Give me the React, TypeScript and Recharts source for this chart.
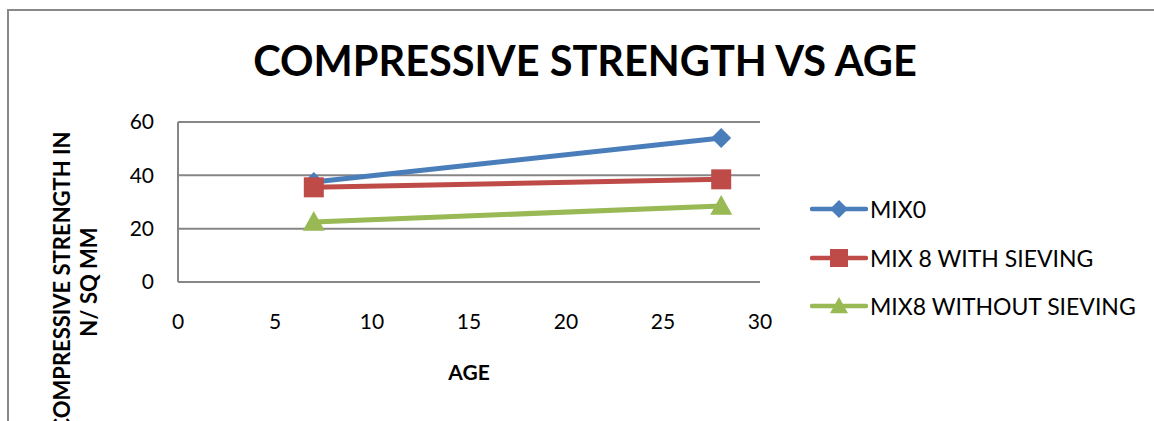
import { LineChart, Line, XAxis, YAxis, CartesianGrid, Label } from 'recharts'

const ages = [7, 28]
const mix0 = [37.5, 54]
const mix8With = [35.5, 38.5]
const mix8Without = [22.5, 28.5]
const xTicks = [0, 5, 10, 15, 20, 25, 30]
const yTicks = [0, 20, 40, 60]

const seriesNames = ['MIX0', 'MIX 8 WITH SIEVING', 'MIX8 WITHOUT SIEVING']
const colors = ['#4A7EBB', '#BE4B48', '#98B954']

const data = ages.map((age, i) => ({
  age,
  mix0: mix0[i],
  mix8With: mix8With[i],
  mix8Without: mix8Without[i],
}))

const FONT = 'Lato, "Open Sans", sans-serif'

function Diamond({ cx, cy, fill, size = 10 }: any) {
  if (cx == null || cy == null) return null
  return <path d={`M${cx},${cy - size}L${cx + size},${cy}L${cx},${cy + size}L${cx - size},${cy}Z`} fill={fill} />
}

function Square({ cx, cy, fill, size = 10 }: any) {
  if (cx == null || cy == null) return null
  return <rect x={cx - size} y={cy - size} width={size * 2} height={size * 2} fill={fill} />
}

function Triangle({ cx, cy, fill, size = 11 }: any) {
  if (cx == null || cy == null) return null
  return <path d={`M${cx},${cy - size}L${cx + size},${cy + size * 0.8}L${cx - size},${cy + size * 0.8}Z`} fill={fill} />
}

const markers = [Diamond, Square, Triangle]

// legend drawn beside the chart so it doesn't eat into the plot offsets
function ChartLegend() {
  return (
    <div style={{ position: 'absolute', left: 810, top: 185, fontFamily: FONT, fontSize: 23, color: '#000' }}>
      {seriesNames.map((name, i) => {
        const M = markers[i]
        return (
          <div key={name} style={{ display: 'flex', alignItems: 'center', height: 48.5 }}>
            <svg width={58} height={24}>
              <line x1={2} y1={12} x2={56} y2={12} stroke={colors[i]} strokeWidth={4.5} strokeLinecap="round" />
              <M cx={29} cy={12} fill={colors[i]} size={9} />
            </svg>
            <span style={{ marginLeft: 2 }}>{name}</span>
          </div>
        )
      })}
    </div>
  )
}

function YTitle({ viewBox }: any) {
  const { y, height } = viewBox
  const cy = y + height / 2 + 80
  return (
    <g fontFamily={FONT} fontWeight="bold" fontSize={22} fill="#000">
      <text x={61} y={cy} transform={`rotate(-90 61 ${cy})`} textAnchor="middle" dominantBaseline="central">
        COMPRESSIVE STRENGTH IN
      </text>
      <text x={88} y={cy} transform={`rotate(-90 88 ${cy})`} textAnchor="middle" dominantBaseline="central">
        N/ SQ MM
      </text>
    </g>
  )
}

export default function App() {
  return (
    <div style={{ position: 'absolute', left: 0, top: 0, width: 1154, height: 421, overflow: 'hidden', background: '#fff' }}>
      <div
        style={{
          position: 'absolute',
          left: 7,
          top: 9,
          width: 1300,
          height: 600,
          border: '2px solid #898989',
          boxSizing: 'border-box',
        }}
      />
      <div
        style={{
          position: 'absolute',
          left: 0,
          width: 1170,
          top: 36,
          textAlign: 'center',
          fontFamily: FONT,
          fontWeight: 'bold',
          fontSize: 41.5,
          color: '#000',
          lineHeight: '48px',
        }}
      >
        COMPRESSIVE STRENGTH VS AGE
      </div>
      <div style={{ position: 'absolute', left: 0, top: 0 }}>
        <LineChart width={1154} height={421} data={data} margin={{ top: 122, right: 394, bottom: 0, left: 118 }}>
          <CartesianGrid horizontal vertical={false} stroke="#868686" strokeWidth={2} />
          <XAxis
            dataKey="age"
            type="number"
            domain={[0, 30]}
            ticks={xTicks}
            height={139}
            axisLine={{ stroke: '#868686', strokeWidth: 2 }}
            tickLine={false}
            tickSize={0}
            tickMargin={32}
            tick={{ fill: '#000', fontSize: 21, fontFamily: FONT }}
            interval={0}
          >
            <Label
              value="AGE"
              position="insideTop"
              offset={83}
              style={{ fill: '#000', fontSize: 21, fontWeight: 'bold', fontFamily: FONT }}
            />
          </XAxis>
          <YAxis
            type="number"
            domain={[0, 60]}
            ticks={yTicks}
            width={60}
            axisLine={{ stroke: '#868686', strokeWidth: 2 }}
            tickLine={false}
            tickSize={0}
            tickMargin={24}
            tick={{ fill: '#000', fontSize: 21, fontFamily: FONT }}
            interval={0}
          >
            <Label content={<YTitle />} />
          </YAxis>
          <Line
            dataKey="mix0"
            name={seriesNames[0]}
            stroke={colors[0]}
            strokeWidth={5}
            dot={(p: any) => <Diamond key={`d${p.index}`} cx={p.cx} cy={p.cy} fill={colors[0]} size={10} />}
            isAnimationActive={false}
          />
          <Line
            dataKey="mix8With"
            name={seriesNames[1]}
            stroke={colors[1]}
            strokeWidth={5}
            dot={(p: any) => <Square key={`s${p.index}`} cx={p.cx} cy={p.cy} fill={colors[1]} size={10} />}
            isAnimationActive={false}
          />
          <Line
            dataKey="mix8Without"
            name={seriesNames[2]}
            stroke={colors[2]}
            strokeWidth={5}
            dot={(p: any) => <Triangle key={`t${p.index}`} cx={p.cx} cy={p.cy} fill={colors[2]} size={11} />}
            isAnimationActive={false}
          />
        </LineChart>
      </div>
      <ChartLegend />
    </div>
  )
}
